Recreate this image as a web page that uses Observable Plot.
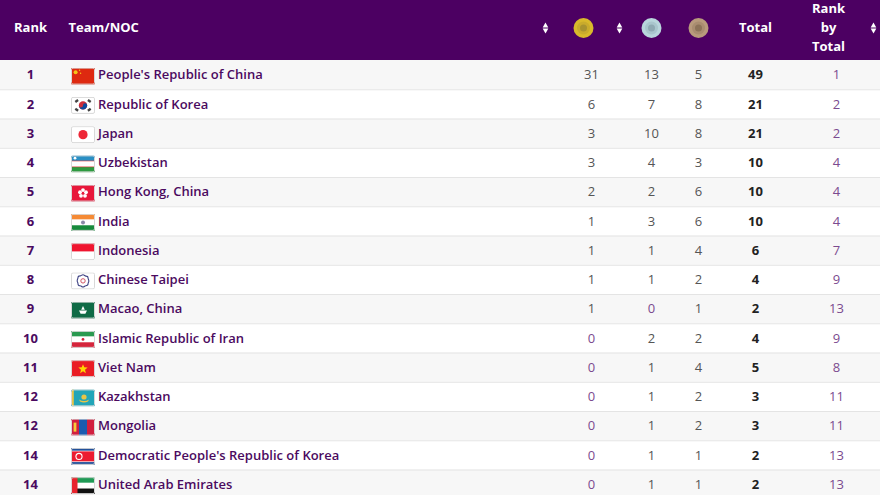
<!DOCTYPE html>
<html><head><meta charset="utf-8">
<script src="https://cdn.jsdelivr.net/npm/d3@7"></script>
<script src="https://cdn.jsdelivr.net/npm/@observablehq/plot@0.6"></script>
<style>html,body{margin:0;padding:0;background:#fff;overflow:hidden}svg{display:block}</style>
</head><body><div id="chart"></div>
<script>
const ranks = [1,2,3,4,5,6,7,8,9,10,11,12,12,14,14];
const teams = ["People's Republic of China","Republic of Korea","Japan","Uzbekistan","Hong Kong, China","India","Indonesia","Chinese Taipei","Macao, China","Islamic Republic of Iran","Viet Nam","Kazakhstan","Mongolia","Democratic People's Republic of Korea","United Arab Emirates"];
const gold = [31,6,3,3,2,1,1,1,1,0,0,0,0,0,0];
const silver = [13,7,10,4,2,3,1,1,0,2,1,1,1,1,1];
const bronze = [5,8,8,3,6,6,4,2,1,2,4,2,2,1,1];
const total = [49,21,21,10,10,10,6,4,2,4,5,3,3,2,2];
const rankByTotal = [1,2,2,4,4,4,7,9,13,9,8,11,11,13,13];

const flagArt = [
 `<rect width="24" height="17" fill="#de2910"/><circle cx="4.6" cy="4.6" r="2" fill="#f5c518"/><circle cx="8.6" cy="2.6" r=".7" fill="#f5c518"/><circle cx="9.6" cy="5.6" r=".7" fill="#f5c518"/>`,
 `<rect width="24" height="17" fill="#fff"/><circle cx="12" cy="8.5" r="4.2" fill="#cd2e3a"/><path d="M7.8 8.5a4.2 4.2 0 0 0 8.4 0a2.1 2.1 0 0 0-4.2 0a2.1 2.1 0 0 1-4.2 0z" fill="#0f4a9e"/><g fill="#444"><rect x="4" y="3" width="3.4" height="2.4" transform="rotate(-35 5.7 4.2)"/><rect x="16.6" y="3" width="3.4" height="2.4" transform="rotate(35 18.3 4.2)"/><rect x="4" y="11.6" width="3.4" height="2.4" transform="rotate(35 5.7 12.8)"/><rect x="16.6" y="11.6" width="3.4" height="2.4" transform="rotate(-35 18.3 12.8)"/></g>`,
 `<rect width="24" height="17" fill="#fff"/><circle cx="12" cy="8.5" r="4.6" fill="#ee2737"/>`,
 `<rect width="24" height="5.6" fill="#2a8fc4"/><rect y="5.6" width="24" height="6" fill="#fff"/><rect y="11.6" width="24" height="5.4" fill="#2d9a3f"/><rect y="5.3" width="24" height=".6" fill="#d33"/><rect y="11.2" width="24" height=".6" fill="#d33"/><circle cx="4" cy="2.8" r="1.4" fill="#fff"/>`,
 `<rect width="24" height="17" fill="#e8173a"/><g fill="#fff"><circle cx="12" cy="5.4" r="1.9"/><circle cx="15" cy="7.6" r="1.9"/><circle cx="14" cy="11.2" r="1.9"/><circle cx="10" cy="11.2" r="1.9"/><circle cx="9" cy="7.6" r="1.9"/></g><circle cx="12" cy="8.6" r=".9" fill="#e8173a"/>`,
 `<rect width="24" height="5.7" fill="#f58a34"/><rect y="5.7" width="24" height="5.7" fill="#fff"/><rect y="11.4" width="24" height="5.6" fill="#178a3c"/><circle cx="12" cy="8.5" r="2" fill="#8a8aa8"/>`,
 `<rect width="24" height="8.5" fill="#f0152f"/><rect y="8.5" width="24" height="8.5" fill="#fff"/>`,
 `<rect width="24" height="17" fill="#fff"/><path d="M12 2.4c1.4 0 1.8 1.3 2.8 1.3s2.2.2 2.2 1.6.8 1.7.8 3.2-.8 1.8-.8 3.2-1.2 1.6-2.2 1.6-1.4 1.3-2.8 1.3-1.8-1.3-2.8-1.3S7 12.9 7 11.5s-.8-1.7-.8-3.2.8-1.8.8-3.2 1.2-1.6 2.2-1.6S10.6 2.4 12 2.4z" fill="#fff" stroke="#3f4384" stroke-width="1.1"/><circle cx="12" cy="8.5" r="2.2" fill="#fff" stroke="#c45" stroke-width=".9"/>`,
 `<rect width="24" height="17" fill="#0f6b46"/><path d="M12 4.4l1.8 3.6h-3.6z" fill="#fff"/><path d="M8 8.8h8l-1.6 3.2h-4.8z" fill="#fff"/>`,
 `<rect width="24" height="5.7" fill="#2a9a50"/><rect y="5.7" width="24" height="5.7" fill="#fff"/><rect y="11.4" width="24" height="5.6" fill="#d5253c"/><circle cx="12" cy="8.5" r="1.4" fill="#d5253c"/>`,
 `<rect width="24" height="17" fill="#ea1c24"/><path d="M12 4l1.25 3.2 3.4.2-2.65 2.2.9 3.4-2.9-1.9-2.9 1.9.9-3.4-2.65-2.2 3.4-.2z" fill="#ffd500"/>`,
 `<rect width="24" height="17" fill="#22a5b8"/><rect x="1" width="1.8" height="17" fill="#e8c547"/><circle cx="13" cy="7.6" r="2.6" fill="#e8c547"/><path d="M8 10q5 3 10 0l-1 2q-4 2-8 0z" fill="#e8c547"/>`,
 `<rect width="8" height="17" fill="#d11f3f"/><rect x="8" width="8" height="17" fill="#1a5bb0"/><rect x="16" width="8" height="17" fill="#d11f3f"/><rect x="2.6" y="4" width="2.8" height="9" fill="#f5cc3a"/>`,
 `<rect width="24" height="17" fill="#22509a"/><rect y="2.8" width="24" height="11.4" fill="#fff"/><rect y="3.5" width="24" height="10" fill="#ec1c30"/><circle cx="8" cy="8.5" r="3.6" fill="#fff"/><circle cx="8" cy="8.5" r="2.5" fill="#ec1c30"/>`,
 `<rect width="24" height="5.7" fill="#1f9a55"/><rect y="5.7" width="24" height="5.7" fill="#fff"/><rect y="11.4" width="24" height="5.6" fill="#111"/><rect width="6.5" height="17" fill="#e8242d"/>`
];
const flagBorder = `<rect x=".5" y=".5" width="23" height="16" rx="1.5" fill="none" stroke="#d8d8d8" stroke-width="1"/>`;
const flagSrc = flagArt.map(a => "data:image/svg+xml;utf8," + encodeURIComponent(
 `<svg xmlns="http://www.w3.org/2000/svg" width="96" height="68" viewBox="0 0 24 17"><defs><clipPath id="c"><rect width="24" height="17" rx="1.5"/></clipPath></defs><g clip-path="url(#c)">${a}</g>${flagBorder}</svg>`));

const rows = d3.range(teams.length);
const rowH = 29.25, headH = 60, W = 880, H = 495;
const font = "'Open Sans', sans-serif";
const purple = "#4b0a60";
const soft = "#7b4b8f";
const cols = {rank:30, flag:82.5, team:97.5, gold:591, silver:651, bronze:698, total:755, byTotal:836};
const num = (col, vals, o={}) => Plot.text(rows, {x:()=>col, y:i=>i+.5, text:i=>String(vals[i]), fontSize:13, fill:"#555", textAnchor:"middle", ...o});
const yHead = -32.5/rowH;
const line = 18.8/rowH;
const headMiddle = [{t:"Rank",x:30,y:yHead},{t:"Total",x:755,y:yHead},{t:"Rank",x:828,y:yHead-line},{t:"by",x:828,y:yHead},{t:"Total",x:828,y:yHead+line}];
const headStart = [{t:"Team/NOC",x:68,y:yHead}];
const medals = [{x:583,c:"#d9b92b",m:"#c9ab2c",i:"#a8932f"},{x:651,c:"#b9d6dc",m:"#a9c6cd",i:"#8faab3"},{x:698,c:"#b89a7c",m:"#a98c70",i:"#8c7258"}];
const arrows = [545,619,873];

const plot = Plot.plot({
  width:W, height:H, margin:0,
  style:{fontFamily:font, background:"#fff"},
  x:{type:"linear", domain:[0,W], range:[0,W], axis:null},
  y:{type:"linear", domain:[-headH/rowH,(H-headH)/rowH], range:[0,H], axis:null},
  marks:[
    Plot.rect(rows.filter(i=>i%2==0),{y1:i=>i,y2:i=>i+1,fill:"#f7f7f7"}),
    Plot.rect([0],{y1:-headH/rowH,y2:0,fill:"#4c0062"}),
    Plot.ruleY(rows.slice(1),{y:i=>i,stroke:"#e4e4e4",strokeWidth:1}),
    Plot.text(headMiddle,{x:"x",y:"y",text:"t",fill:"#fff",fontSize:13,fontWeight:700,textAnchor:"middle"}),
    Plot.text(headStart,{x:"x",y:"y",text:"t",fill:"#fff",fontSize:13,fontWeight:700,textAnchor:"start"}),
    Plot.dot(medals,{x:"x",y:()=>yHead,r:10,fill:"c"}),
    Plot.dot(medals,{x:"x",y:()=>yHead,r:6.5,fill:"m"}),
    Plot.dot(medals,{x:"x",y:()=>yHead,r:3.5,fill:"i"}),
    Plot.dot(arrows,{x:d=>d,y:()=>yHead,dy:-2.2,symbol:"triangle",r:2.1,fill:"#fff"}),
    Plot.dot(arrows,{x:d=>d,y:()=>yHead,dy:2.2,symbol:"triangle",r:2.1,fill:"#fff",rotate:180}),
    num(cols.rank,ranks,{fill:purple,fontWeight:700}),
    Plot.image(rows,{x:()=>cols.flag,y:i=>i+.5,dy:1,width:24,height:17,src:i=>flagSrc[i]}),
    Plot.text(rows,{x:()=>cols.team,y:i=>i+.5,text:i=>teams[i],fill:purple,fontSize:13,fontWeight:600,textAnchor:"start"}),
    num(cols.gold,gold,{fill:i=>gold[i]===0?soft:"#555"}),
    num(cols.silver,silver,{fill:i=>silver[i]===0?soft:"#555"}),
    num(cols.bronze,bronze),
    num(cols.total,total,{fill:"#222",fontWeight:700}),
    num(cols.byTotal,rankByTotal,{fill:soft})
  ]
});
document.getElementById("chart").append(plot);
</script></body></html>
